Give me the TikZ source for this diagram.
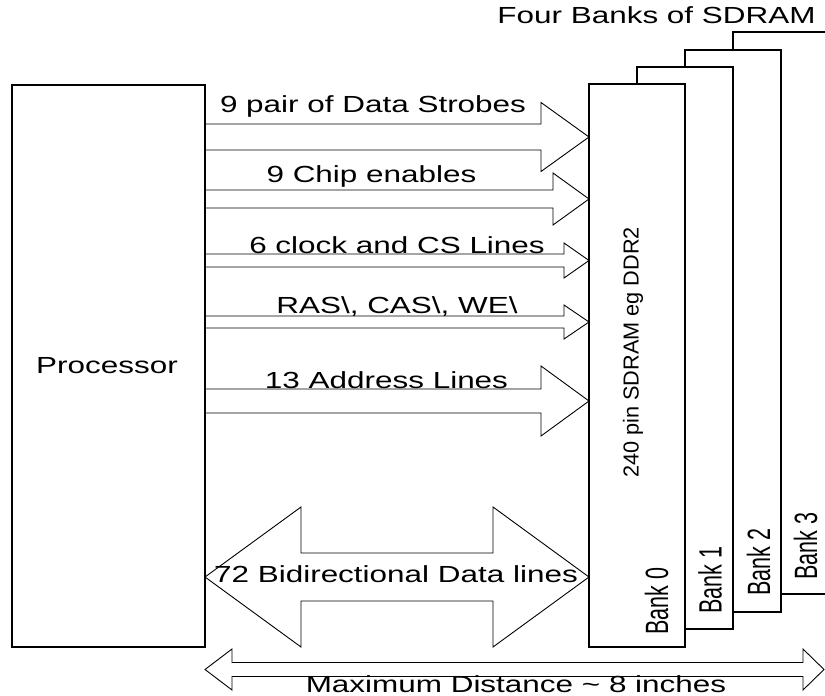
\documentclass[tikz,border=0pt]{standalone}
\usepackage{fontspec}
\setmainfont{Liberation Sans}
\usepackage{graphicx}
% horizontally widened text, and tall text for the rotated bank labels
\newcommand\widetext[1]{\scalebox{1.35}[1]{#1}}
\newcommand\talltext[1]{\scalebox{1}[1.5]{#1}}
% block arrow pointing right, from the processor edge to bank 0:
% #1 axis y, #2 shaft half-height, #3 head base x, #4 head half-height
\newcommand\rblock[4]{%
  \draw[blockarrow] (proc.east |- 0,#1-#2) -- (#3,#1-#2) -- (#3,#1-#4)
    -- (bank0.west |- 0,#1) -- (#3,#1+#4) -- (#3,#1+#2) -- (proc.east |- 0,#1+#2);}
\begin{document}
\begin{tikzpicture}[x=1pt,y=-1pt,
  box/.style={draw, line width=1.8pt, inner sep=0pt, outer sep=0pt, anchor=north west},
  bankline/.style={line width=1.6pt},
  blockarrow/.style={draw, line width=0.9pt, line join=miter},
  lbl/.style={inner sep=0pt, anchor=base, font=\fontsize{23.3}{28}\selectfont},
  banklbl/.style={inner sep=0pt, rotate=90, font=\fontsize{21.5}{26}\selectfont}]
\useasboundingbox (0,0) rectangle (825,696);

% processor and the four stacked SDRAM banks
\node[box, minimum width=193pt, minimum height=562pt] (proc) at (12,85) {};
\node[lbl] (proctext) at (107,373) {\widetext{Processor}};

\draw[bankline] (733,50) -- (733,32) -- (830,32);
\draw[bankline] (781,594) -- (830,594);
\draw[bankline] (685,67) -- (685,50) -- (781,50) -- (781,612) -- (733,612);
\draw[bankline] (637,84) -- (637,67) -- (733,67) -- (733,629) -- (685,629);
\node[box, minimum width=96pt, minimum height=563pt] (bank0) at (589,84) {};

\node[lbl] (title) at (656.5,23.5) {\widetext{Four Banks of SDRAM}};
\node[inner sep=0pt, rotate=90, font=\fontsize{21.7}{26}\selectfont] (part) at (633,352.5) {240 pin SDRAM eg DDR2};
\node[banklbl] (b0) at (656.5,601) {\talltext{Bank 0}};
\node[banklbl] (b1) at (710,580) {\talltext{Bank 1}};
\node[banklbl] (b2) at (758.5,562) {\talltext{Bank 2}};
\node[banklbl] (b3) at (805.5,546) {\talltext{Bank 3}};

% control and address buses
\rblock{137}{13}{541}{34.5}
\rblock{199}{9}{553}{26}
\rblock{260.5}{6.5}{564}{17.5}
\rblock{322}{6}{564}{17}
\rblock{401}{12}{541}{35}

\node[lbl] (ds) at (373,112) {\widetext{9 pair of Data Strobes}};
\node[lbl] (ce) at (371.5,182) {\widetext{9 Chip enables}};
\node[lbl] (clk) at (397,253) {\widetext{6 clock and CS Lines}};
\node[lbl] (ctl) at (397,313) {\widetext{RAS\textbackslash, CAS\textbackslash, WE\textbackslash}};
\node[lbl] (addr) at (386.5,388) {\widetext{13 Address Lines}};

% bidirectional data bus
\draw[blockarrow] (proc.east |- 0,577) -- (301,507) -- (301,553) -- (493,553) -- (493,507)
  -- (bank0.west |- 0,577) -- (493,647) -- (493,601) -- (301,601) -- (301,647) -- cycle;
\node[lbl] (data) at (396,582) {\widetext{72 Bidirectional Data lines}};

% overall distance
\draw[blockarrow] (proc.east |- 0,669.5) -- (232,649) -- (232,662.5) -- (803,662.5) -- (803,649)
  -- (824,669.5) -- (803,690) -- (803,676.5) -- (232,676.5) -- (232,690) -- cycle;
\node[lbl] (dist) at (516,692) {\widetext{Maximum Distance \textasciitilde{} 8 inches}};
\end{tikzpicture}
\end{document}
